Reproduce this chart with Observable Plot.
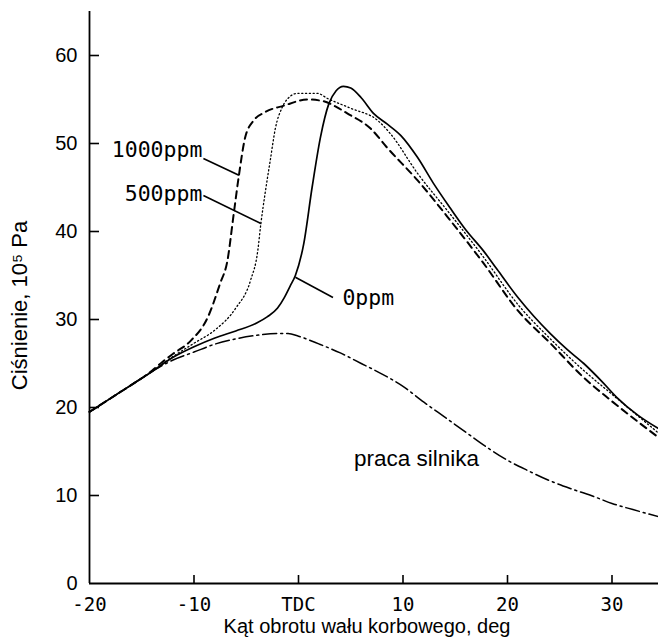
<!DOCTYPE html>
<html>
<head>
<meta charset="utf-8">
<script src="https://cdn.jsdelivr.net/npm/d3@7"></script>
<script src="https://cdn.jsdelivr.net/npm/@observablehq/plot@0.6"></script>
<style>
  html, body { margin: 0; padding: 0; background: #fff; }
</style>
</head>
<body>
<div id="chart"></div>
<script>
// ---- data ----
const xTicks = [-20, -10, 0, 10, 20, 30];
const xTickLabels = ["-20", "-10", "TDC", "10", "20", "30"];
const yTicks = [0, 10, 20, 30, 40, 50, 60];

const motoringAngle    = [-20, -17, -14, -12, -10, -8, -6, -4, -2, -1, 0, 2, 4, 6, 8, 10, 12, 14, 16, 18, 20, 22, 24, 26, 28, 30, 32, 34.45];
const motoringPressure = [19.5, 21.8, 24.1, 25.4, 26.3, 27.2, 27.8, 28.2, 28.4, 28.4, 28.1, 27.2, 26.2, 25.0, 23.8, 22.4, 20.6, 18.9, 17.2, 15.5, 14.0, 12.8, 11.7, 10.8, 10.0, 9.1, 8.4, 7.6];

const ppm0Angle    = [-20, -17, -14, -12, -10, -8, -6, -4, -3, -2, -1.4, -0.8, -0.3, 0.5, 1.3, 2.1, 2.9, 3.6, 4.3, 5.0, 6.0, 7.2, 8.5, 9.8, 11.4, 12.9, 14.5, 16.0, 17.7, 19.0, 21.0, 22.5, 24.1, 25.7, 27.3, 29.0, 30.5, 32.5, 34.45];
const ppm0Pressure = [19.5, 21.8, 24.1, 25.7, 26.9, 27.9, 28.7, 29.6, 30.3, 31.3, 32.4, 33.8, 35.0, 38.6, 45.0, 50.7, 54.5, 56.0, 56.5, 56.3, 55.2, 53.4, 52.2, 50.9, 48.4, 45.5, 42.7, 40.2, 37.8, 35.7, 32.5, 30.4, 28.4, 26.6, 25.0, 23.0, 21.1, 19.1, 17.6];

const ppm500Angle    = [-20, -17, -14, -12, -10, -8, -6, -4.6, -3.9, -3.6, -3.2, -2.7, -2.2, -1.6, -1.1, -0.1, 1.8, 2.8, 5.0, 7.6, 8.8, 11.4, 14.5, 17.7, 21.0, 24.1, 27.3, 30.0, 34.45];
const ppm500Pressure = [19.5, 21.8, 24.1, 25.8, 27.3, 28.8, 31.3, 34.4, 37.8, 40.9, 44.3, 48.1, 51.8, 54.0, 55.0, 55.7, 55.7, 55.1, 54.0, 52.6, 51.1, 46.6, 42.0, 37.1, 31.7, 27.8, 24.2, 21.5, 17.1];

const ppm1000Angle    = [-20, -17, -14, -13, -12, -10.3, -8.7, -7.5, -6.8, -6.2, -5.7, -5.1, -4.3, -3.3, -1.4, 0.9, 2.4, 3.7, 4.7, 6.9, 8.5, 11.4, 14.5, 17.7, 21.0, 24.1, 27.3, 29.9, 34.45];
const ppm1000Pressure = [19.5, 21.8, 24.2, 25.2, 26.1, 27.6, 30.2, 34.1, 36.7, 42.0, 46.4, 50.7, 52.6, 53.5, 54.3, 55.0, 54.8, 54.1, 53.4, 51.7, 49.5, 45.8, 41.3, 36.4, 31.0, 27.3, 23.4, 20.8, 16.6];

// labels drawn to the left of their leaders, and the one drawn to the right
const leftLabelText = ["1000ppm", "500ppm"];
const leftLabelX    = [-9.2, -9.2];
const leftLabelY    = [49.2, 44.3];
const rightLabelText = ["0ppm"];
const rightLabelX    = [4.2];
const rightLabelY    = [32.4];

const leaderX1 = [-9.1, -9.1, -0.3];
const leaderY1 = [48.3, 44.1, 34.8];
const leaderX2 = [-5.7, -3.6, 3.3];
const leaderY2 = [46.4, 40.9, 32.5];

const motoringLabel = "praca silnika";
const motoringLabelX = 11.3;
const motoringLabelY = 14.2;

const xTitle = "Kąt obrotu wału korbowego, deg";
const yTitle = "Ciśnienie, 10\u2075 Pa";

// ---- build tables ----
const toRows = (xs, ys) => xs.map((x, i) => ({angle: x, pressure: ys[i]}));
const motoring = toRows(motoringAngle, motoringPressure);
const ppm0 = toRows(ppm0Angle, ppm0Pressure);
const ppm500 = toRows(ppm500Angle, ppm500Pressure);
const ppm1000 = toRows(ppm1000Angle, ppm1000Pressure);
const leftLabels = leftLabelText.map((t, i) => ({t, x: leftLabelX[i], y: leftLabelY[i]}));
const rightLabels = rightLabelText.map((t, i) => ({t, x: rightLabelX[i], y: rightLabelY[i]}));
const leaders = leaderX1.map((x1, i) => ({x1, y1: leaderY1[i], x2: leaderX2[i], y2: leaderY2[i]}));

const sans = "'Liberation Sans', Arial, sans-serif";
const mono = "'DejaVu Sans Mono', 'Liberation Mono', monospace";
const ppmStyle = {fontFamily: mono, fontSize: 21.5, fontWeight: 500};

const chart = Plot.plot({
  width: 658,
  height: 644,
  marginLeft: 89,
  marginRight: 0,
  marginTop: 11,
  marginBottom: 61,
  x: {domain: [-20, 34.45]},
  y: {domain: [0, 65]},
  style: {fontFamily: sans, fontSize: "19px", background: "#fff", color: "#000", overflow: "visible"},
  marks: [
    Plot.axisX({ticks: xTicks, tickFormat: d => xTickLabels[xTicks.indexOf(d)], tickSize: 0, tickPadding: 14, label: null, fontSize: 19, fontFamily: mono}),
    Plot.axisY({ticks: yTicks, tickSize: 0, tickPadding: 12, label: null, fontSize: 20}),
    Plot.ruleX([-20], {strokeWidth: 1.8}),
    Plot.ruleY([0], {strokeWidth: 1.8}),
    Plot.ruleY(yTicks.slice(1), {y: d => d, x1: -20, x2: -20, insetRight: -10, strokeWidth: 1.6}),
    Plot.ruleX(xTicks.slice(1), {x: d => d, y1: 0, y2: 0, insetTop: -8, strokeWidth: 1.6}),
    Plot.line(motoring, {x: "angle", y: "pressure", curve: "monotone-x", strokeWidth: 1.5, strokeDasharray: "14,4,2,4"}),
    Plot.line(ppm1000, {x: "angle", y: "pressure", curve: "monotone-x", strokeWidth: 2, strokeDasharray: "7,5"}),
    Plot.line(ppm500, {x: "angle", y: "pressure", curve: "monotone-x", strokeWidth: 1.3, strokeDasharray: "1.2,2.6"}),
    Plot.line(ppm0, {x: "angle", y: "pressure", curve: "monotone-x", strokeWidth: 1.7}),
    Plot.link(leaders, {x1: "x1", y1: "y1", x2: "x2", y2: "y2", strokeWidth: 1.6}),
    Plot.text(leftLabels, {x: "x", y: "y", text: "t", textAnchor: "end", ...ppmStyle}),
    Plot.text(rightLabels, {x: "x", y: "y", text: "t", textAnchor: "start", ...ppmStyle}),
    Plot.text([motoringLabel], {x: motoringLabelX, y: motoringLabelY, text: d => d, fontSize: 22.5}),
    Plot.text([xTitle], {frameAnchor: "bottom", textAnchor: "middle", lineAnchor: "middle", dy: 43, dx: -7, text: d => d, fontSize: 20}),
    Plot.text([yTitle], {frameAnchor: "left", textAnchor: "middle", lineAnchor: "middle", rotate: -90, dx: -70, dy: 8, text: d => d, fontSize: 22})
  ]
});
document.getElementById("chart").appendChild(chart);
</script>
</body>
</html>
